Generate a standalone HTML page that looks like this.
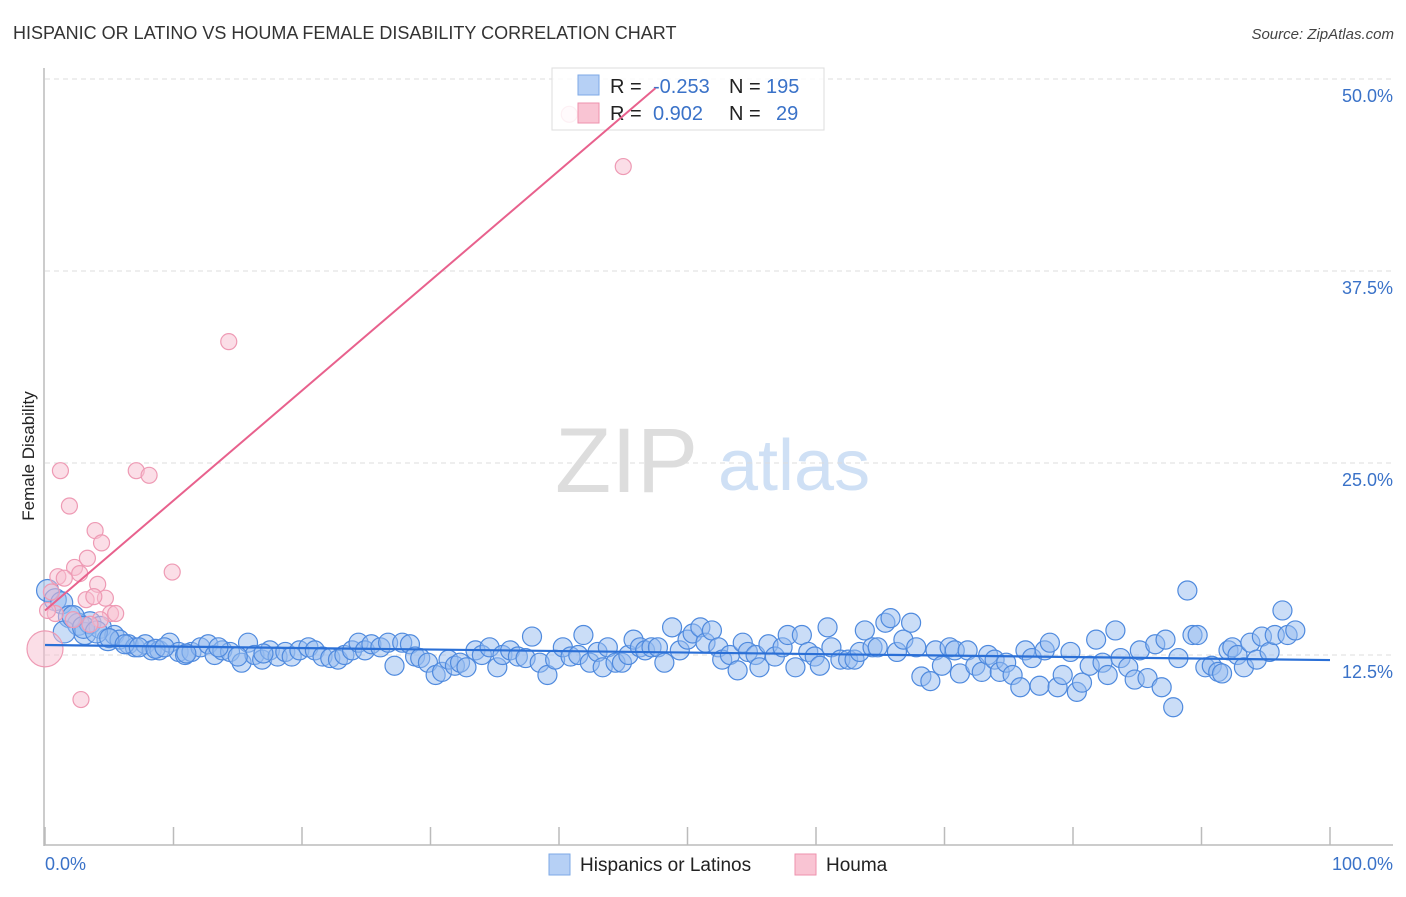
<!DOCTYPE html>
<html><head><meta charset="utf-8"><style>
body{margin:0;background:#fff;font-family:"Liberation Sans",sans-serif;}
svg text{font-family:"Liberation Sans",sans-serif;}
</style></head><body>
<svg id="chart" width="1406" height="892" xmlns="http://www.w3.org/2000/svg">
<text x="13" y="39" font-size="18" fill="#333">HISPANIC OR LATINO VS HOUMA FEMALE DISABILITY CORRELATION CHART</text>
<text x="1394" y="39" font-size="15" fill="#444" text-anchor="end" font-style="italic">Source: ZipAtlas.com</text>
<text transform="translate(34,456) rotate(-90)" font-size="17" fill="#222" text-anchor="middle">Female Disability</text>
<g>
<text x="555" y="492" font-size="92" fill="#ddd" font-family="Liberation Serif,serif">ZIP</text>
<text x="718" y="490" font-size="72" fill="#cfe0f5">atlas</text>
</g>
<g id="grid"></g>
<g id="axes"></g>
<g id="pts"></g>
<g>
<rect x="552" y="68" width="272" height="62" fill="#fff" fill-opacity="0.85" stroke="#ddd"/>
<rect x="578" y="75" width="21" height="20" fill="#b6d0f5" stroke="#7ea9e6"/>
<rect x="578" y="103" width="21" height="20" fill="#f9c4d3" stroke="#ee92ae"/>
<text x="610" y="93" font-size="20" fill="#222">R =</text>
<text x="653" y="93" font-size="20" fill="#3a72c8">-0.253</text>
<text x="729" y="93" font-size="20" fill="#222">N =</text>
<text x="766" y="93" font-size="20" fill="#3a72c8">195</text>
<text x="610" y="120" font-size="20" fill="#222">R =</text>
<text x="653" y="120" font-size="20" fill="#3a72c8">0.902</text>
<text x="729" y="120" font-size="20" fill="#222">N =</text>
<text x="776" y="120" font-size="20" fill="#3a72c8">29</text>
</g>
<g id="trend"></g>
<g>
<rect x="549" y="854" width="21" height="21" fill="#b6d0f5" stroke="#7ea9e6"/>
<text x="580" y="871" font-size="19" fill="#222">Hispanics or Latinos</text>
<rect x="795" y="854" width="21" height="21" fill="#f9c4d3" stroke="#ee92ae"/>
<text x="826" y="871" font-size="19" fill="#222">Houma</text>
</g>
</svg>
<script>
const yTicks=[12.5,25,37.5,50];
const yTickLabels=["12.5%","25.0%","37.5%","50.0%"];
const xTicks=[0,10,20,30,40,50,60,70,80,90,100];
const xEndLabels=["0.0%","100.0%"];
const blueX=[0.2,0.8,1.3,1.9,2.6,3.1,3.5,4.3,4.9,5.4,5.8,6.5,7.0,7.8,8.3,8.9,9.7,10.4,10.9,11.4,12.1,12.7,13.2,13.8,14.4,15.3,15.8,16.3,16.9,17.5,18.1,18.7,19.2,19.8,20.5,21.0,21.6,22.2,22.8,23.3,23.9,24.4,24.9,25.4,26.1,26.7,27.2,27.8,28.4,28.8,29.2,29.8,30.4,30.9,31.4,31.9,32.3,32.8,33.5,34.0,34.6,35.2,35.6,36.2,36.8,37.4,37.9,38.5,39.1,39.7,40.3,40.9,41.5,41.9,42.4,43.0,43.4,43.8,44.4,44.9,45.4,45.8,46.3,46.7,47.2,47.7,48.2,48.8,49.4,50.0,50.4,51.0,51.4,51.9,52.4,52.7,53.3,53.9,54.3,54.7,55.3,55.6,56.3,56.8,57.4,57.8,58.4,58.9,59.4,59.9,60.3,60.9,61.2,61.9,62.5,63.0,63.4,63.8,64.4,64.8,65.4,65.8,66.3,66.8,67.4,67.8,68.2,68.9,69.3,69.8,70.4,70.8,71.2,71.8,72.4,72.9,73.4,73.9,74.3,74.8,75.3,75.9,76.3,76.8,77.4,77.8,78.2,78.8,79.2,79.8,80.3,80.7,81.3,81.8,82.3,82.7,83.3,83.7,84.3,84.8,85.2,85.8,86.4,86.9,87.2,87.8,88.2,88.9,89.3,89.7,90.3,90.8,91.3,91.6,92.1,92.4,92.8,93.3,93.8,94.3,94.7,95.3,95.7,96.3,96.7,97.3,1.5,2.2,3.0,4.0,5.0,6.2,7.3,8.6,9.3,11.0,13.5,15.0,17.0];
const blueY=[16.7,16.1,15.9,15.0,14.5,13.9,14.6,14.3,13.5,13.8,13.5,13.2,13.0,13.2,12.8,12.8,13.3,12.7,12.5,12.7,13.0,13.2,12.5,12.8,12.7,12.0,13.3,12.5,12.2,12.8,12.4,12.7,12.4,12.8,13.0,12.8,12.4,12.3,12.2,12.5,12.8,13.3,12.8,13.2,13.0,13.3,11.8,13.3,13.2,12.4,12.3,12.0,11.2,11.4,12.2,11.8,12.0,11.7,12.8,12.5,13.0,11.7,12.5,12.8,12.4,12.3,13.7,12.0,11.2,12.2,13.0,12.4,12.5,13.8,12.0,12.7,11.7,13.0,12.0,12.0,12.5,13.5,13.0,12.8,13.0,13.0,12.0,14.3,12.8,13.5,13.9,14.3,13.3,14.1,13.0,12.2,12.5,11.5,13.3,12.7,12.5,11.7,13.2,12.4,13.0,13.8,11.7,13.8,12.7,12.4,11.8,14.3,13.0,12.2,12.2,12.2,12.7,14.1,13.0,13.0,14.6,14.9,12.7,13.5,14.6,13.0,11.1,10.8,12.8,11.8,13.0,12.8,11.3,12.8,11.8,11.4,12.5,12.2,11.4,12.0,11.2,10.4,12.8,12.3,10.5,12.8,13.3,10.4,11.2,12.7,10.1,10.7,11.8,13.5,12.0,11.2,14.1,12.3,11.7,10.9,12.8,11.0,13.2,10.4,13.5,9.1,12.3,16.7,13.8,13.8,11.7,11.8,11.4,11.3,12.8,13.0,12.5,11.7,13.3,12.2,13.7,12.7,13.8,15.4,13.8,14.1,14.0,15.0,14.3,14.0,13.6,13.2,13.0,12.9,13.0,12.6,13.0,12.4,12.6];
const pinkX=[1.2,1.9,7.1,8.1,14.3,45.0,3.9,4.4,3.3,1.0,2.3,2.7,4.1,1.5,5.1,5.5,4.7,9.9,3.2,3.8,0.8,2.2,2.8,0.0,40.8,0.5,4.3,3.5,0.2];
const pinkY=[24.5,22.2,24.5,24.2,32.9,44.3,20.6,19.8,18.8,17.6,18.2,17.8,17.1,17.5,15.2,15.2,16.2,17.9,16.1,16.3,15.2,14.8,9.6,12.9,47.7,16.6,14.8,14.5,15.4];
const blueTrend=[0,13.15,100,12.17];
const pinkTrend=[0,15.4,47.5,49.4];
const NS="http://www.w3.org/2000/svg";
const X0=45,X1=1330,Y0=847,YPX=15.36;
function sx(v){return X0+(X1-X0)*v/100;}
function sy(v){return Y0-v*YPX;}
function mk(tag,attrs,parent){const e=document.createElementNS(NS,tag);for(const k in attrs)e.setAttribute(k,attrs[k]);parent.appendChild(e);return e;}
const grid=document.getElementById('grid'),axes=document.getElementById('axes'),pts=document.getElementById('pts'),trend=document.getElementById('trend');
yTicks.forEach((t,i)=>{
 const l=mk('line',{x1:45,x2:1393,y1:sy(t),y2:sy(t),stroke:'#ddd','stroke-dasharray':'5,4'},grid);
 
 
 const tx=mk('text',{x:1393,y:sy(t)+23,'font-size':18,fill:'#3a72c8','text-anchor':'end'},axes);
 tx.textContent=yTickLabels[i];
 
 
});
const ax=mk('line',{x1:44,x2:44,y1:68,y2:846,stroke:'#bbb','stroke-width':1.5},axes);


const bx=mk('line',{x1:44,x2:1393,y1:845,y2:845,stroke:'#bbb','stroke-width':1.5},axes);


xTicks.forEach(t=>{
 const l=mk('line',{x1:sx(t),x2:sx(t),y1:827,y2:845,stroke:'#bbb','stroke-width':1.5},axes);
 
 
});
const xl0=mk('text',{x:45,y:870,'font-size':18,fill:'#3a72c8'},axes);xl0.textContent=xEndLabels[0];


const xl1=mk('text',{x:1393,y:870,'font-size':18,fill:'#3a72c8','text-anchor':'end'},axes);xl1.textContent=xEndLabels[1];


blueX.forEach((x,i)=>{
 const r=x<5?11:9.5;
 const c=mk('circle',{cx:sx(x),cy:sy(blueY[i]),r:r,fill:'rgba(150,188,240,0.5)',stroke:'#4f8ade','stroke-width':1.2},pts);
 
 
});
pinkX.forEach((x,i)=>{
 const r=(x===0)?18:8;
 const c=mk('circle',{cx:sx(x),cy:sy(pinkY[i]),r:r,fill:'rgba(248,190,208,0.5)',stroke:'#ee9ab4','stroke-width':1.2},pts);
 
 
});
const bt=mk('line',{x1:sx(blueTrend[0]),y1:sy(blueTrend[1]),x2:sx(blueTrend[2]),y2:sy(blueTrend[3]),stroke:'#2a6fd6','stroke-width':2.2},trend);


const pt=mk('line',{x1:sx(pinkTrend[0]),y1:sy(pinkTrend[1]),x2:sx(pinkTrend[2]),y2:sy(pinkTrend[3]),stroke:'#e8618d','stroke-width':2},trend);


</script>
</body></html>
